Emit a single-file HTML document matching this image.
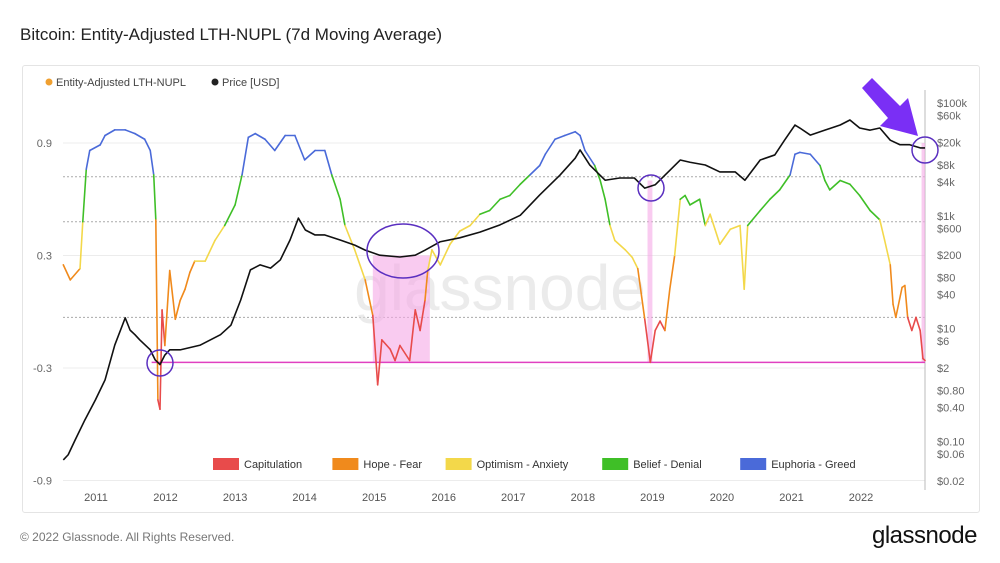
<!DOCTYPE html>
<html><head><meta charset="utf-8"><style>
body{margin:0;background:#fff;font-family:"Liberation Sans",sans-serif;width:1000px;height:563px;overflow:hidden;position:relative}
.t{position:absolute}
</style></head><body>
<div class="t" style="left:20px;top:25px;font-size:17px;color:#222">Bitcoin: Entity-Adjusted LTH-NUPL (7d Moving Average)</div>
<div class="t" style="left:22px;top:65px;width:956px;height:446px;border:1px solid #e4e4e4;border-radius:3px"></div>
<div class="t" style="left:20px;top:530px;font-size:12px;color:#777">© 2022 Glassnode. All Rights Reserved.</div>
<div class="t" style="left:872px;top:522px;font-size:24px;color:#111;letter-spacing:-0.5px">glassnode</div>
<svg id="c" width="1000" height="563" style="position:absolute;left:0;top:0"></svg>
<script>
const nupl=[[2010.53,0.25],[2010.63,0.17],[2010.77,0.23],[2010.81,0.48],[2010.86,0.76],[2010.91,0.86],[2011.06,0.89],[2011.13,0.94],[2011.27,0.97],[2011.42,0.97],[2011.56,0.95],[2011.70,0.92],[2011.78,0.86],[2011.83,0.73],[2011.86,0.49],[2011.89,-0.47],[2011.92,-0.52],[2011.95,0.01],[2011.99,-0.18],[2012.06,0.22],[2012.14,-0.04],[2012.21,0.06],[2012.28,0.12],[2012.35,0.21],[2012.42,0.27],[2012.57,0.27],[2012.71,0.38],[2012.85,0.46],[2013.00,0.57],[2013.10,0.73],[2013.19,0.93],[2013.29,0.95],[2013.43,0.92],[2013.57,0.86],[2013.72,0.94],[2013.86,0.94],[2014.00,0.81],[2014.15,0.86],[2014.29,0.86],[2014.39,0.73],[2014.51,0.60],[2014.58,0.46],[2014.72,0.33],[2014.87,0.17],[2014.98,-0.02],[2015.05,-0.39],[2015.11,-0.15],[2015.23,-0.20],[2015.30,-0.26],[2015.37,-0.18],[2015.51,-0.26],[2015.59,0.01],[2015.66,-0.10],[2015.73,0.06],[2015.77,0.22],[2015.83,0.33],[2015.95,0.25],[2016.09,0.36],[2016.23,0.43],[2016.38,0.46],[2016.52,0.52],[2016.66,0.54],[2016.81,0.60],[2016.95,0.62],[2017.10,0.68],[2017.24,0.73],[2017.38,0.78],[2017.46,0.84],[2017.60,0.92],[2017.74,0.94],[2017.89,0.96],[2017.96,0.94],[2018.03,0.86],[2018.17,0.78],[2018.25,0.70],[2018.32,0.60],[2018.39,0.46],[2018.46,0.38],[2018.61,0.33],[2018.71,0.29],[2018.79,0.23],[2018.89,-0.04],[2018.97,-0.27],[2019.04,-0.10],[2019.11,-0.05],[2019.18,-0.10],[2019.25,0.12],[2019.32,0.30],[2019.40,0.60],[2019.47,0.62],[2019.54,0.57],[2019.68,0.60],[2019.76,0.46],[2019.83,0.52],[2019.90,0.44],[2019.97,0.36],[2020.12,0.44],[2020.26,0.46],[2020.32,0.12],[2020.37,0.46],[2020.55,0.54],[2020.69,0.60],[2020.83,0.65],[2020.98,0.73],[2021.05,0.84],[2021.12,0.85],[2021.27,0.84],[2021.41,0.78],[2021.48,0.70],[2021.55,0.65],[2021.70,0.70],[2021.84,0.68],[2021.98,0.62],[2022.13,0.54],[2022.27,0.49],[2022.34,0.38],[2022.42,0.25],[2022.46,0.04],[2022.50,-0.03],[2022.59,0.13],[2022.63,0.14],[2022.67,-0.03],[2022.73,-0.10],[2022.79,-0.03],[2022.85,-0.10],[2022.89,-0.25],[2022.92,-0.26]];
const price=[[2010.53,0.047],[2010.60,0.058],[2010.70,0.106],[2010.84,0.24],[2010.99,0.54],[2011.13,1.23],[2011.27,5.1],[2011.42,15.5],[2011.49,9.4],[2011.56,7.8],[2011.63,6.3],[2011.78,4.2],[2011.85,2.8],[2011.92,2.3],[2011.99,3.4],[2012.06,4.2],[2012.21,4.2],[2012.50,5.1],[2012.79,7.8],[2012.94,11.5],[2013.08,32],[2013.22,110],[2013.36,135],[2013.51,118],[2013.65,165],[2013.79,372],[2013.91,910],[2014.01,560],[2014.15,457],[2014.29,457],[2014.51,372],[2014.72,302],[2014.87,246],[2015.08,200],[2015.37,186],[2015.59,200],[2015.73,246],[2015.95,347],[2016.23,407],[2016.52,513],[2016.81,692],[2017.10,1020],[2017.38,2340],[2017.67,5250],[2017.89,10500],[2017.96,14700],[2018.10,7950],[2018.32,4270],[2018.53,4680],[2018.74,4680],[2018.89,3090],[2019.04,3550],[2019.18,5250],[2019.40,9750],[2019.54,8900],[2019.76,7950],[2019.97,6000],[2020.19,6000],[2020.33,4270],[2020.55,9750],[2020.76,12000],[2020.90,21900],[2021.05,40700],[2021.12,36000],[2021.27,27000],[2021.48,33000],[2021.70,40700],[2021.84,50000],[2021.98,36000],[2022.13,33000],[2022.27,36000],[2022.42,21900],[2022.56,18200],[2022.70,18200],[2022.85,16000],[2022.92,16000]];
const years=[2011,2012,2013,2014,2015,2016,2017,2018,2019,2020,2021,2022];
const leftTicks=[0.9,0.3,-0.3,-0.9];
const priceTicks=[100000,60000,20000,8000,4000,1000,600,200,80,40,10,6,2,0.8,0.4,0.1,0.06,0.02];
const priceLabels=["$100k","$60k","$20k","$8k","$4k","$1k","$600","$200","$80","$40","$10","$6","$2","$0.80","$0.40","$0.10","$0.06","$0.02"];
const dotted=[0.72,0.48,-0.03];
const bands=[{t:0,c:"#e84b4b",n:"Capitulation"},{t:0.25,c:"#f08a1c",n:"Hope - Fear"},{t:0.5,c:"#f3d84a",n:"Optimism - Anxiety"},{t:0.75,c:"#3fbf27",n:"Belief - Denial"},{t:9,c:"#4a6ad9",n:"Euphoria - Greed"}];
const X=y=>96+(y-2011)*69.55, Y=v=>311.75-187.5*v, P=p=>103+(5-Math.log10(p))*56.4;
const svg=document.getElementById('c');const NS="http://www.w3.org/2000/svg";
function mk(t,a,p){const e=document.createElementNS(NS,t);for(const k in a)e.setAttribute(k,a[k]);(p||svg).appendChild(e);return e;}
// grid
leftTicks.forEach(v=>{const l=mk('line',{x1:63,x2:925,y1:Y(v),y2:Y(v),stroke:'#ececec'});
const t=mk('text',{x:52,y:Y(v)+4,'text-anchor':'end','font-size':11,fill:'#666'});t.textContent=v;});
dotted.forEach(v=>{const l=mk('line',{x1:63,x2:925,y1:Y(v),y2:Y(v),stroke:'#aaa','stroke-dasharray':'2,2'});});
priceTicks.forEach((p,i)=>{const t=mk('text',{x:937,y:P(p)+4,'font-size':11,fill:'#666'});t.textContent=priceLabels[i];});
mk('line',{x1:925,x2:925,y1:90,y2:490,stroke:'#bbb'});
years.forEach(y=>{const t=mk('text',{x:X(y),y:501,'text-anchor':'middle','font-size':11,fill:'#555'});t.textContent=y;});
// watermark
const w=mk('text',{x:500,y:310,'text-anchor':'middle','font-size':64,fill:'#ddd','fill-opacity':0.6});w.textContent='glassnode';
// pink shading
[[2014.98,2015.8,Y(0.3)],[2018.93,2019.0,Y(0.7)],[2022.87,2022.92,Y(0.9)]].forEach(r=>{const e=mk('rect',{x:X(r[0]),y:r[2],width:X(r[1])-X(r[0]),height:Y(-0.27)-r[2],fill:'#f5a8e6','fill-opacity':0.6});});
const hl=mk('line',{x1:X(2011.8),x2:925,y1:Y(-0.27),y2:Y(-0.27),stroke:'#e040c0','stroke-width':1.5});
// nupl colored
function col(v){for(const b of bands)if(v<b.t)return b.c;return bands[4].c;}
for(let i=0;i<nupl.length-1;i++){const a=nupl[i],b=nupl[i+1];const s=mk('line',{x1:X(a[0]),y1:Y(a[1]),x2:X(b[0]),y2:Y(b[1]),stroke:col((a[1]+b[1])/2),'stroke-width':1.6,'stroke-linecap':'round'});}
// price
const pl=mk('polyline',{points:price.map(d=>X(d[0])+','+P(d[1])).join(' '),fill:'none',stroke:'#111','stroke-width':1.6,'stroke-linejoin':'round'});
// circles
[[160,363,13,13],[403,251,36,27],[651,188,13,13],[925,150,13,13]].forEach(c=>{const e=mk('ellipse',{cx:c[0],cy:c[1],rx:c[2],ry:c[3],fill:'none',stroke:'#5a2fc0','stroke-width':1.5});});
const ar=mk('polygon',{points:'862,88 872,78 900,106 908,98 918,136 880,126 888,118',fill:'#7a2ff5'});
// top legend
[[45,'#f0a030','Entity-Adjusted LTH-NUPL'],[211,'#222','Price [USD]']].forEach(l=>{const g=mk('g',{});mk('circle',{cx:l[0]+4,cy:82,r:3.5,fill:l[1]},g);const t=mk('text',{x:l[0]+11,y:86,'font-size':11,fill:'#444'},g);t.textContent=l[2];});
// bottom legend
let lx=213;bands.forEach(b=>{const g=mk('g',{});mk('rect',{x:lx,y:458,width:26,height:12,fill:b.c},g);const t=mk('text',{x:lx+31,y:468,'font-size':11,fill:'#333'},g);t.textContent=b.n;lx+=31+b.n.length*6.2+14;});
</script>
</body></html>
